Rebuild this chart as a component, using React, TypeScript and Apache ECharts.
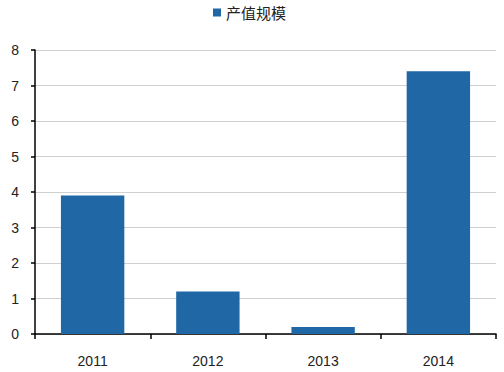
import React, { useEffect, useRef } from "react";
import * as echarts from "echarts";

const categories = ["2011", "2012", "2013", "2014"];
const values = [3.9, 1.2, 0.2, 7.4];
const seriesName = "产值规模";

export default function App() {
  const ref = useRef<HTMLDivElement>(null);
  useEffect(() => {
    const chart = echarts.init(ref.current!, null, { renderer: "svg" });
    chart.setOption({
      animation: false,
      legend: {
        data: [seriesName],
        top: 0,
        left: 208,
        icon: "rect",
        itemWidth: 8,
        itemHeight: 8,
        itemGap: 6,
        textStyle: { fontFamily: "Noto Sans CJK SC", fontSize: 15, color: "#222" },
      },
      grid: { left: 35, right: 8, top: 50, bottom: 38, containLabel: false },
      xAxis: {
        type: "category",
        data: categories,
        boundaryGap: true,
        axisLine: { lineStyle: { color: "#000", width: 1.5 } },
        axisTick: { show: true, length: 5, inside: false, lineStyle: { color: "#000", width: 1.5 } },
        axisLabel: { margin: 20, fontFamily: "Liberation Sans", fontSize: 14, color: "#222" },
      },
      yAxis: {
        type: "value",
        min: 0,
        max: 8,
        interval: 1,
        axisLine: { show: true, lineStyle: { color: "#000", width: 1.5 } },
        axisTick: { show: true, length: 4, lineStyle: { color: "#000", width: 1.5 } },
        axisLabel: { margin: 16, fontFamily: "Liberation Sans", fontSize: 14, color: "#222" },
        splitLine: { show: true, lineStyle: { color: "#d0d0d0", width: 1 } },
      },
      series: [
        {
          name: seriesName,
          type: "bar",
          data: values,
          barWidth: "55%",
          itemStyle: { color: "#1F67A5" },
        },
      ],
    });
    return () => chart.dispose();
  }, []);
  return (
    <div
      ref={ref}
      style={{ position: "absolute", left: 0, top: 0, width: 504, height: 372 }}
    />
  );
}
